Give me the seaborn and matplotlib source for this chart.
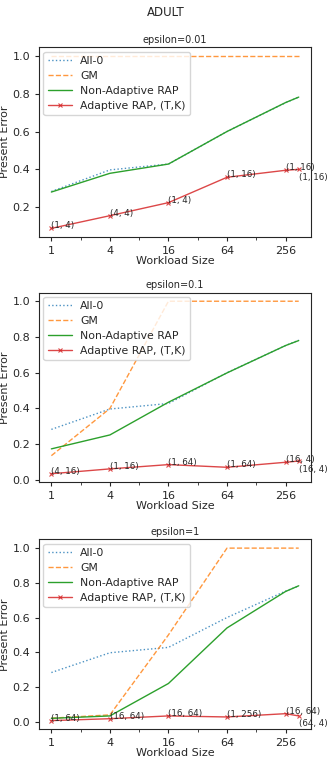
#!/usr/bin/env python3
"""Present error vs workload size on ADULT for three privacy budgets."""

import matplotlib

matplotlib.use("Agg")

import matplotlib.pyplot as plt
from matplotlib.ticker import FixedLocator, NullFormatter
import seaborn as sns

WORKLOAD = [1, 4, 16, 64, 256, 350]
EPSILONS = ["0.01", "0.1", "1"]

ALL_ZERO = [0.283, 0.397, 0.428, 0.600, 0.752, 0.782]

GM = {
    "0.01": [1.0, 1.0, 1.0, 1.0, 1.0, 1.0],
    "0.1": [0.136, 0.400, 1.0, 1.0, 1.0, 1.0],
    "1": [0.020, 0.039, 0.50, 1.0, 1.0, 1.0],
}
NON_ADAPTIVE = {
    "0.01": [0.280, 0.379, 0.428, 0.600, 0.753, 0.782],
    "0.1": [0.174, 0.252, 0.435, 0.599, 0.752, 0.780],
    "1": [0.019, 0.033, 0.220, 0.540, 0.750, 0.783],
}
ADAPTIVE = {
    "0.01": [0.088, 0.155, 0.224, 0.358, 0.395, 0.400],
    "0.1": [0.035, 0.062, 0.086, 0.071, 0.099, 0.106],
    "1": [0.006, 0.017, 0.033, 0.027, 0.046, 0.033],
}
PARAMS = {
    "0.01": ["(1, 4)", "(4, 4)", "(1, 4)", "(1, 16)", "(1, 16)", "(1, 16)"],
    "0.1": ["(4, 16)", "(1, 16)", "(1, 64)", "(1, 64)", "(16, 4)", "(16, 4)"],
    "1": ["(1, 64)", "(16, 64)", "(16, 64)", "(1, 256)", "(16, 64)", "(64, 4)"],
}

sns.set_style("ticks")
plt.rcParams["font.family"] = ["DejaVu Sans"]
palette = sns.color_palette("tab10")

fig = plt.figure(figsize=(3.32, 7.62), dpi=100)
fig.suptitle("ADULT", y=0.992, fontsize=8.5)

left, width, height = 0.1175, 0.8195, 0.249
bottoms = [0.689, 0.367, 0.043]

for eps, bottom in zip(EPSILONS, bottoms):
    ax = fig.add_axes([left, bottom, width, height])
    sns.lineplot(x=WORKLOAD, y=ALL_ZERO, ax=ax, color=palette[0], linestyle=":",
                 linewidth=1.0, alpha=0.8, label="All-0")
    sns.lineplot(x=WORKLOAD, y=GM[eps], ax=ax, color=palette[1], linestyle="--",
                 linewidth=1.0, alpha=0.8, label="GM")
    sns.lineplot(x=WORKLOAD, y=NON_ADAPTIVE[eps], ax=ax, color=palette[2],
                 linewidth=1.0, label="Non-Adaptive RAP")
    sns.lineplot(x=WORKLOAD, y=ADAPTIVE[eps], ax=ax, color=palette[3],
                 linewidth=1.0, marker="x", markersize=3.3, markeredgewidth=0.8,
                 markeredgecolor=palette[3], alpha=0.85,
                 label="Adaptive RAP, (T,K)")

    for i, (x, y, text) in enumerate(zip(WORKLOAD, ADAPTIVE[eps], PARAMS[eps])):
        if i == len(WORKLOAD) - 1:
            ax.annotate(text, (x, y), xytext=(0, -2.5), textcoords="offset points",
                        va="top", fontsize=6.3)
        else:
            ax.annotate(text, (x, y), fontsize=6.3)

    ax.set_xscale("log", base=2)
    ax.xaxis.set_major_locator(FixedLocator([1, 4, 16, 64, 256]))
    ax.set_xticklabels(["1", "4", "16", "64", "256"])
    ax.xaxis.set_minor_locator(FixedLocator([2, 8, 32, 128]))
    ax.xaxis.set_minor_formatter(NullFormatter())
    ax.tick_params(axis="both", labelsize=8, length=3)
    ax.tick_params(axis="x", which="minor", length=2)
    ax.set_xlabel("Workload Size", fontsize=8, labelpad=0)
    ax.set_ylabel("Present Error", fontsize=8, labelpad=1.5)
    ax.set_title(f"epsilon={eps}", fontsize=7, pad=3)
    ax.legend(loc="upper left", fontsize=7.8, handlelength=2.2,
              borderaxespad=0.4, labelspacing=0.45, framealpha=0.8)

fig.savefig("out.png", dpi=100)
plt.close(fig)
